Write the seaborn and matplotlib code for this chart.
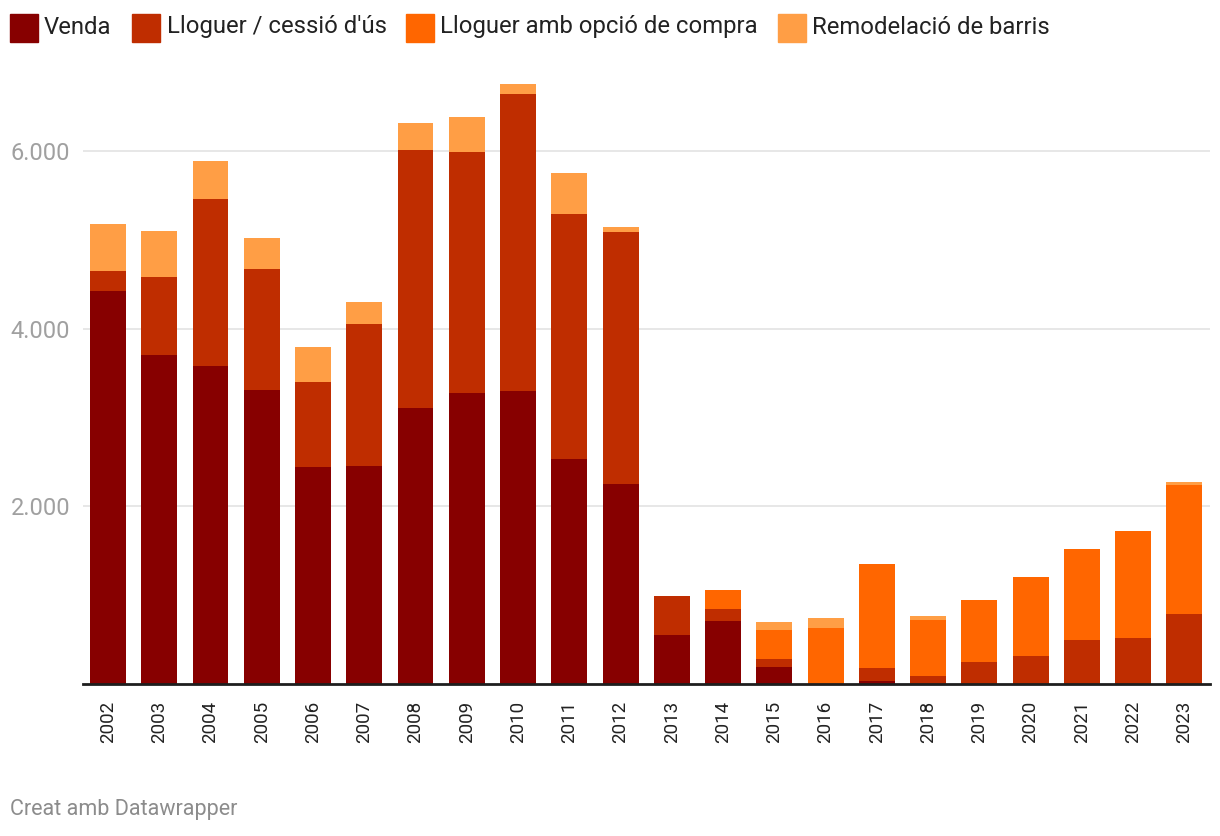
import matplotlib
matplotlib.use("Agg")
import matplotlib.pyplot as plt
import seaborn as sns
import pandas as pd
import numpy as np
from matplotlib.patches import Rectangle

years = [str(y) for y in range(2002, 2024)]
venda = [4424, 3704, 3580, 3310, 2443, 2454, 3107, 3276, 3298, 2533, 2251,
         552, 709, 191, 0, 34, 0, 0, 0, 0, 0, 0]
lloguer = [225, 878, 1880, 1362, 957, 1599, 2904, 2713, 3344, 2758, 2837,
           439, 135, 90, 0, 146, 90, 248, 315, 495, 518, 788]
opcio = [0, 0, 0, 0, 0, 0, 0, 0, 0, 0, 0,
         0, 214, 327, 630, 1171, 630, 698, 890, 1025, 1204, 1452]
remodel = [529, 518, 428, 349, 394, 247, 304, 394, 112, 462, 56,
           0, 0, 90, 113, 0, 45, 0, 0, 0, 0, 34]

series_names = ["Venda", "Lloguer / cessió d'ús", "Lloguer amb opció de compra", "Remodelació de barris"]
colors = ["#870000", "#bf2d00", "#ff6600", "#ff9e45"]

sns.set_theme(style="white")
plt.rcParams['font.family'] = ['Roboto', 'DejaVu Sans']

df = pd.DataFrame({"year": years, "venda": venda, "lloguer": lloguer,
                   "opcio": opcio, "remodel": remodel})
df["c1"] = df["venda"]
df["c2"] = df["c1"] + df["lloguer"]
df["c3"] = df["c2"] + df["opcio"]
df["c4"] = df["c3"] + df["remodel"]

W, H = 1220, 836
fig = plt.figure(figsize=(W / 100, H / 100), dpi=100)
ax = fig.add_axes([83 / W, 152 / H, (1210 - 83) / W, 622 / H])

for col, color in zip(["c4", "c3", "c2", "c1"], colors[::-1]):
    sns.barplot(data=df, x="year", y=col, color=color, width=0.7,
                saturation=1, ax=ax, errorbar=None, linewidth=0, zorder=3)

ax.set_xlim(-0.488, 21.5)
ax.set_ylim(0, 7000)
ax.set_yticks([2000, 4000, 6000])
ax.set_yticklabels(["2.000", "4.000", "6.000"])
ax.yaxis.grid(True, color="#e3e3e3", linewidth=1.2, zorder=0)
ax.xaxis.grid(False)
ax.set_axisbelow(True)
for s in ["top", "right", "left"]:
    ax.spines[s].set_visible(False)
ax.spines["bottom"].set_color("#1e1e1e")
ax.spines["bottom"].set_linewidth(2)
ax.spines["bottom"].set_zorder(5)
ax.set_xlabel("")
ax.set_ylabel("")
ax.tick_params(axis="y", length=0, pad=52, labelsize=17, labelcolor="#a0a0a0")
for lab in ax.get_yticklabels():
    lab.set_horizontalalignment("left")
ax.tick_params(axis="x", length=0, pad=12, labelsize=13.5, labelcolor="#222222",
               rotation=90)

# legend
leg_items = [(10, 44), (132, 167), (406, 440), (778, 812)]
for (sx, tx), name, color in zip(leg_items, series_names, colors):
    fig.patches.append(Rectangle((sx / W, 1 - 42 / H), 28 / W, 28 / H,
                                 transform=fig.transFigure, color=color, figure=fig))
    fig.text(tx / W, 1 - 27 / H, name, ha="left", va="center", fontsize=17.2,
             color="#222222")

fig.text(10 / W, 1 - 810 / H, "Creat amb Datawrapper", ha="left", va="center",
         fontsize=15.5, color="#8c8c8c")

fig.savefig("out.png", dpi=100, facecolor="white")
